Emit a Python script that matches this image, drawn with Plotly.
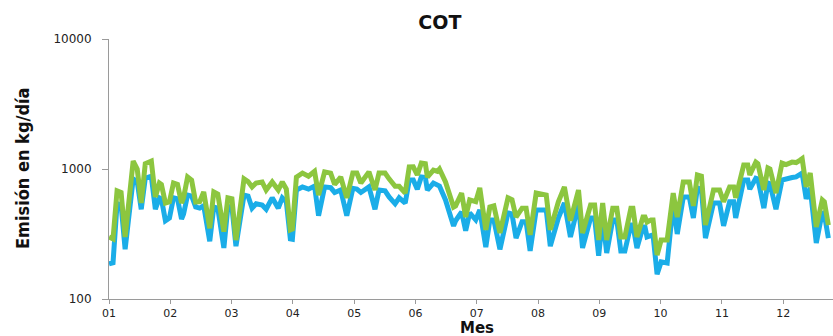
import plotly.graph_objects as go

# Day of year (0 = 1 January) at each vertex of the daily emission traces
dias = [0, 2, 4, 6, 8, 9, 12, 14, 16, 18, 21, 23, 25, 26, 28, 30, 32, 34, 36, 37,
        39, 41, 43, 45, 47, 50, 52, 54, 57, 59, 61, 63, 65, 67, 69, 71, 73, 76, 78, 81,
        84, 86, 88, 90, 91, 93, 96, 99, 102, 104, 107, 110, 112, 115, 118, 121, 123, 125, 129, 132,
        134, 137, 139, 142, 144, 147, 149, 151, 153, 155, 157, 158, 161, 163, 164, 167, 171, 172, 175, 177,
        179, 182, 184, 187, 189, 191, 194, 198, 200, 202, 205, 207, 209, 212, 217, 219, 223, 226, 229, 233,
        235, 239, 241, 243, 245, 247, 250, 252, 254, 256, 259, 260, 262, 265, 266, 267, 269, 270, 272, 274,
        277, 280, 282, 285, 288, 290, 292, 294, 296, 300, 303, 305, 308, 310, 311, 315, 317, 318, 321, 322,
        325, 327, 328, 331, 334, 336, 339, 341, 343, 344, 346, 348, 351, 354, 355, 357]

# COT emission, kg/day - upper series (green)
cot_verde = [300, 290, 680, 660, 300, 420, 1150, 1000, 547, 1100, 1150, 609, 780, 760, 547, 560, 780, 760, 547, 600,
             867, 820, 556, 560, 665, 350, 665, 640, 330, 600, 590, 284, 500, 840, 800, 728, 780, 795, 689, 795,
             689, 795, 700, 340, 345, 867, 931, 880, 960, 631, 950, 930, 760, 867, 600, 931, 931, 780, 950, 689,
             931, 931, 840, 736, 736, 653, 1036, 1040, 900, 1110, 1100, 867, 982, 960, 1000, 795, 510, 520, 653, 427,
             578, 560, 715, 340, 510, 520, 322, 600, 580, 427, 500, 500, 311, 653, 630, 340, 560, 728, 400, 689,
             322, 528, 528, 284, 547, 284, 500, 500, 300, 300, 500, 500, 300, 427, 427, 390, 406, 406, 218, 284,
             284, 653, 427, 795, 795, 520, 900, 880, 371, 689, 689, 560, 728, 728, 600, 1074, 1074, 900, 1130, 1100,
             689, 1018, 1000, 653, 1110, 1080, 1130, 1120, 1170, 1200, 728, 931, 358, 578, 560, 370]

# COT emission, kg/day - lower series (blue)
cot_azul = [186, 190, 540, 530, 241, 330, 840, 800, 490, 850, 880, 490, 600, 590, 400, 420, 600, 590, 413, 450,
            631, 620, 510, 500, 522, 278, 510, 500, 247, 515, 510, 255, 420, 631, 620, 500, 540, 528, 490, 600,
            500, 600, 560, 290, 288, 689, 728, 700, 740, 437, 728, 720, 660, 690, 437, 710, 700, 660, 728, 490,
            690, 680, 610, 540, 600, 547, 822, 822, 700, 867, 860, 689, 780, 760, 740, 578, 365, 400, 467, 335,
            459, 406, 484, 251, 406, 406, 241, 459, 450, 294, 393, 393, 234, 484, 484, 255, 420, 547, 300, 540,
            247, 420, 420, 215, 420, 226, 406, 406, 234, 234, 371, 371, 247, 358, 358, 300, 311, 311, 155, 193,
            189, 540, 316, 609, 609, 420, 715, 700, 294, 547, 547, 365, 560, 560, 420, 822, 822, 700, 850, 840,
            500, 780, 770, 490, 822, 830, 860, 870, 900, 931, 590, 715, 270, 467, 450, 294]

# Month ticks
meses = ["01", "02", "03", "04", "05", "06", "07", "08", "09", "10", "11", "12"]
inicio_mes = [i * 365 / 12 for i in range(12)]

fig = go.Figure()
fig.add_trace(go.Scatter(x=dias, y=cot_azul, mode="lines",
                         line=dict(color="#1AADE8", width=5), showlegend=False))
fig.add_trace(go.Scatter(x=dias, y=cot_verde, mode="lines",
                         line=dict(color="#8CC63F", width=5), showlegend=False))

fig.update_layout(
    width=833, height=336,
    margin=dict(l=109, r=0, t=39, b=37),
    paper_bgcolor="white", plot_bgcolor="white",
    title=dict(text="<b>COT</b>", xref="container", x=0.528, xanchor="center",
               yref="container", y=0.932, yanchor="middle",
               font=dict(family="DejaVu Sans", size=19, color="#111")),
    xaxis=dict(range=[0, 359.3], tickmode="array", tickvals=inicio_mes, ticktext=meses,
               showline=True, linecolor="#9a9a9a", linewidth=1, showgrid=False, zeroline=False,
               ticks="outside", ticklen=4, tickcolor="#9a9a9a", ticklabelstandoff=0,
               tickfont=dict(family="DejaVu Sans", size=11, color="#222")),
    yaxis=dict(type="log", range=[2, 4], tickmode="array", tickvals=[100, 1000, 10000],
               ticktext=["100", "1000", "10000"],
               showline=True, linecolor="#9a9a9a", linewidth=1, showgrid=False, zeroline=False,
               ticks="outside", ticklen=6, tickcolor="#9a9a9a", ticklabelstandoff=8,
               tickfont=dict(family="DejaVu Sans", size=12, color="#222")),
    annotations=[
        dict(text="<b>Mes</b>", xref="paper", yref="paper", x=(477 - 109) / 724, y=(299 - 328) / 260,
             xanchor="center", yanchor="middle", showarrow=False,
             font=dict(family="DejaVu Sans", size=15, color="#111")),
        dict(text="<b>Emisión en kg/día</b>", xref="paper", yref="paper", x=(22 - 109) / 724, y=0.5,
             xanchor="center", yanchor="middle", textangle=-90, showarrow=False,
             font=dict(family="Liberation Sans Narrow, DejaVu Sans Condensed, Liberation Sans",
                       size=18, color="#111")),
    ],
)

fig.write_html("out.html")
